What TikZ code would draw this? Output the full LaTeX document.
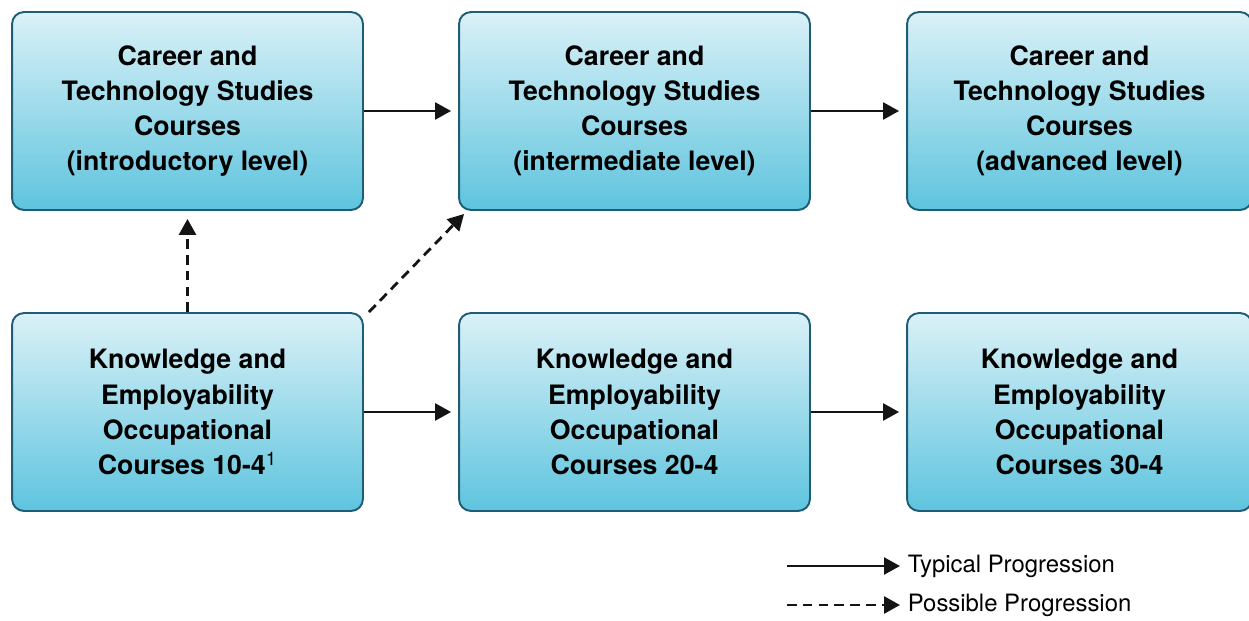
\documentclass[tikz,border=0pt]{standalone}
\usepackage{fontspec}
\setmainfont{TeX Gyre Heros}
\usepackage{tikz}
\usetikzlibrary{arrows.meta}
\definecolor{boxtop}{HTML}{DAF1F7}
\definecolor{boxmiddle}{HTML}{AEDFEC}
\definecolor{boxbottom}{HTML}{5EC4DE}
\definecolor{boxedge}{HTML}{1F5C76}
\definecolor{arrowgray}{HTML}{141414}

\begin{document}
\begin{tikzpicture}[x=0.02cm, y=-0.02cm]
    % Styles
    \tikzstyle{course} = [rectangle, rounded corners=0.24cm, minimum width=7.02cm, minimum height=3.96cm, align=center, draw=boxedge, line width=1.1pt, top color=boxtop, middle color=boxmiddle, bottom color=boxbottom, font=\fontsize{15.2}{20}\selectfont\bfseries]
    \tikzstyle{typical} = [line width=1.4pt, draw=arrowgray, -{Triangle[length=0.32cm, width=0.34cm]}]
    \tikzstyle{possible} = [typical, line width=1.6pt, dash pattern=on 5.5pt off 3.5pt]
    \tikzstyle{legendtext} = [anchor=west, inner sep=2pt, font=\fontsize{13.6}{15}\selectfont]

    \useasboundingbox (0,0) rectangle (1249,620);

    % Nodes - using absolute positioning
    \node[course] (cts1) at (187.5,111) {Career and\\Technology Studies\\Courses\\(introductory level)};
    \node[course] (cts2) at (634.5,111) {Career and\\Technology Studies\\Courses\\(intermediate level)};
    \node[course, minimum width=6.9cm] (cts3) at (1079.5,111) {Career and\\Technology Studies\\Courses\\(advanced level)};
    \node[course] (keo1) at (187.5,412) {Knowledge and\\Employability\\Occupational\\Courses 10-4{\mdseries\textsuperscript{1}}};
    \node[course] (keo2) at (634.5,412) {Knowledge and\\Employability\\Occupational\\Courses 20-4};
    \node[course, minimum width=6.9cm] (keo3) at (1079.5,412) {Knowledge and\\Employability\\Occupational\\Courses 30-4};

    % Arrows
    \draw[typical, shorten >=0.14cm] (cts1) -- (cts2);
    \draw[typical, shorten >=0.14cm] (cts2) -- (cts3);
    \draw[typical, shorten >=0.14cm] (keo1) -- (keo2);
    \draw[typical, shorten >=0.14cm] (keo2) -- (keo3);

    % Possible routes
    \draw[possible, shorten >=0.16cm] (keo1.north) -- (cts1.south);
    \draw[possible] ([xshift=0.1cm]keo1.north east) -- ([shift={(0.12cm,-0.06cm)}]cts2.south west);

    % Legend
    \node[legendtext] (typLabel) at (904,566) {Typical Progression};
    \node[legendtext] (posLabel) at (904,605) {Possible Progression};
    \coordinate (typStart) at (787,566);
    \coordinate (posStart) at (787,605);
    \draw[typical, shorten >=0.08cm] (typStart) -- (typLabel.west);
    \draw[possible, shorten >=0.08cm] (posStart) -- (posLabel.west);
\end{tikzpicture}
\end{document}
